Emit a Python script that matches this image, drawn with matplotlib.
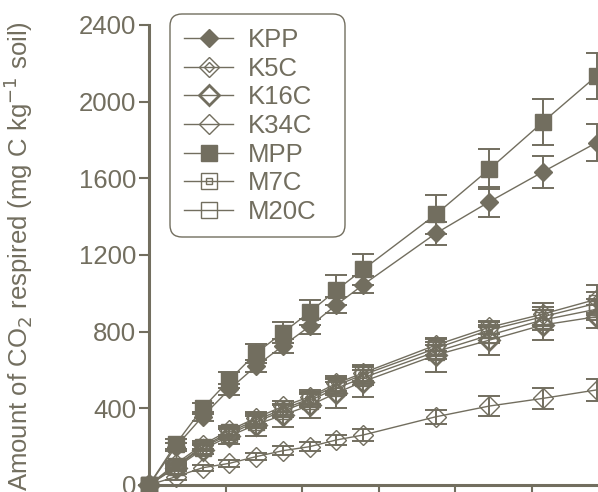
import numpy as np
import matplotlib
matplotlib.use("Agg")
import matplotlib.pyplot as plt
from matplotlib.patches import FancyBboxPatch

plt.rcParams['font.family'] = ['Liberation Sans', 'DejaVu Sans']

# sampling days
days = [0, 7, 14, 21, 28, 35, 42, 49, 56, 75, 89, 103, 117]

# cumulative CO2 respired (mg C / kg soil) and error bars
kpp = [0, 200, 357, 499, 621, 726, 828, 940, 1045, 1313, 1478, 1634, 1786]
kpp_err = [0, 20, 25, 30, 30, 35, 40, 40, 45, 60, 78, 85, 95]
k5c = [0, 110, 210, 285, 350, 410, 460, 530, 585, 730, 823, 892, 969]
k5c_err = [0, 15, 20, 25, 30, 30, 35, 40, 40, 30, 34, 56, 74]
k16c = [0, 90, 185, 255, 315, 365, 415, 480, 540, 678, 756, 835, 878]
k16c_err = [0, 15, 25, 40, 60, 60, 65, 80, 80, 87, 78, 79, 61]
k34c = [0, 43, 90, 113, 148, 179, 200, 235, 261, 356, 412, 452, 496]
k34c_err = [0, 15, 15, 20, 20, 25, 25, 25, 30, 37, 50, 54, 56]
mpp = [0, 214, 400, 548, 688, 795, 902, 1017, 1125, 1412, 1648, 1894, 2134]
mpp_err = [0, 25, 30, 40, 50, 55, 65, 80, 80, 100, 105, 118, 122]
m7c = [0, 100, 200, 275, 340, 395, 450, 520, 575, 713, 809, 878, 948]
m7c_err = [0, 15, 20, 25, 30, 30, 35, 35, 40, 35, 40, 50, 60]
m20c = [0, 95, 195, 265, 330, 385, 440, 505, 560, 695, 782, 861, 917]
m20c_err = [0, 15, 20, 25, 30, 30, 35, 35, 40, 35, 40, 50, 55]

labels = ['KPP', 'K5C', 'K16C', 'K34C', 'MPP', 'M7C', 'M20C']
yticks = [0, 400, 800, 1200, 1600, 2000, 2400]

c = '#726e5f'

fig = plt.figure(figsize=(5.98, 4.92), dpi=100)
ax = fig.add_axes([149 / 598, 7 / 492, 459 / 598, 460 / 492])

def series(y, err, marker, ms, fill, mew, label):
    mfc = c if fill else 'none'
    ax.errorbar(days, y, yerr=err, color=c, lw=1.0, elinewidth=1.4,
                capsize=8, capthick=1.4, fmt='none', clip_on=False, zorder=2)
    line, = ax.plot(days, y, color=c, lw=1.0, marker=marker, ms=ms,
                    mfc=mfc, mec=c, mew=mew, label=label, clip_on=False, zorder=3)
    return line

h_kpp = series(kpp, kpp_err, 'D', 9, True, 1.0, 'KPP')
h_k5c = series(k5c, k5c_err, 'D', 10, False, 1.0, 'K5C')
in_k5c, = ax.plot(days, k5c, ls='none', marker='D', ms=5, mfc='none', mec=c,
                  mew=1.0, clip_on=False, zorder=3)
h_k16c = series(k16c, k16c_err, 'D', 10, False, 2.0, 'K16C')
h_k34c = series(k34c, k34c_err, 'D', 10, False, 1.0, 'K34C')
h_mpp = series(mpp, mpp_err, 's', 11, True, 1.0, 'MPP')
h_m7c = series(m7c, m7c_err, 's', 11, False, 1.0, 'M7C')
in_m7c, = ax.plot(days, m7c, ls='none', marker='s', ms=5, mfc='none', mec=c,
                  mew=1.0, clip_on=False, zorder=3)
h_m20c = series(m20c, m20c_err, 's', 11, False, 1.0, 'M20C')

ax.set_xlim(0, 120)
ax.set_ylim(0, 2400)
ax.set_yticks(yticks)
ax.set_xticks([20, 40, 60, 80, 100, 120])
ax.set_xticklabels([])
for s in ['top', 'right']:
    ax.spines[s].set_visible(False)
for s in ['left', 'bottom']:
    ax.spines[s].set_color(c)
    ax.spines[s].set_linewidth(2.2)
ax.tick_params(colors=c, labelcolor=c, labelsize=18.5, length=7, width=1.5, pad=2)

fig.text(18 / 598, 1 - 256 / 492, 'Amount of CO$_2$ respired (mg C kg$^{-1}$ soil)',
         rotation=90, ha='center', va='center', color=c, fontsize=18.5)

handles = [h_kpp, (h_k5c, in_k5c), h_k16c, h_k34c, h_mpp, (h_m7c, in_m7c), h_m20c]
leg = fig.legend(handles, labels, loc='upper left',
                 bbox_to_anchor=(170 / 598, 1 - 14 / 492), borderaxespad=0,
                 frameon=False, fontsize=18.5, handlelength=1.9, handletextpad=0.6,
                 labelspacing=0.18, borderpad=0.55, labelcolor=c)

# legend frame drawn by hand (pixels), wider than the legend content
box = FancyBboxPatch((170, 492 - 237), 175, 223, boxstyle='round,pad=0,rounding_size=12',
                     transform=None, fc='none', ec=c, lw=1.0)
fig.patches.append(box)

fig.savefig('out.png', dpi=100)
